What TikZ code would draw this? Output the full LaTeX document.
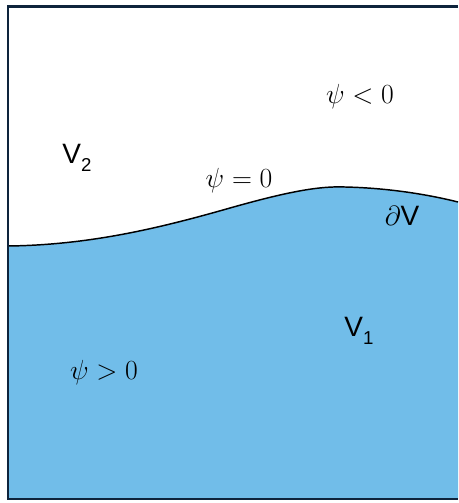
\documentclass[tikz,border=0pt]{standalone}
\usepackage{fontspec}
\newfontfamily\labelfont{Liberation Sans}
\usepackage{tikz}
\definecolor{regionblue}{RGB}{113,189,233}
\definecolor{framenavy}{RGB}{14,36,60}
\newcommand{\setfont}{\fontsize{21}{25}\selectfont\labelfont}
\newcommand{\setsub}[1]{\raisebox{-0.28em}{\fontsize{14}{17}\selectfont\labelfont #1}}
\tikzset{
  mathlabel/.style={inner sep=0.75pt, font=\fontsize{20}{24}\selectfont},
  setlabel/.style={inner sep=0.75pt, font=\setfont}
}

\begin{document}
\begin{tikzpicture}[x=0.75pt,y=0.75pt,yscale=-1,xscale=1]
\useasboundingbox (0,0) rectangle (458,503);

%Shape: lower region V1
\fill [regionblue] (8,246) .. controls (90,245) and (160,228) .. (230,208) .. controls (290,191) and (320,186) .. (345,187) .. controls (390,188) and (430,195) .. (458,202) -- (458,499) -- (8,499) -- cycle ;
%Curve: boundary dV
\draw [line width=1.1pt] (8,246) .. controls (90,245) and (160,228) .. (230,208) .. controls (290,191) and (320,186) .. (345,187) .. controls (390,188) and (430,195) .. (458,202) ;
%Straight Lines: frame
\draw [framenavy, line width=1.6pt] (458,6.5) -- (8,6.5) -- (8,499) -- (458,499) ;

% Text Node
\node (psineg) [mathlabel] at (360,97) {$\psi < 0$};
% Text Node
\node (vtwo) [setlabel] at (77,158) {V\setsub{2}};
% Text Node
\node (psizero) [mathlabel] at (239,181) {$\psi = 0$};
% Text Node
\node (boundary) [mathlabel] at (402,216) {$\partial${\setfont V}};
% Text Node
\node (vone) [setlabel] at (359,331) {V\setsub{1}};
% Text Node
\node (psipos) [mathlabel] at (104,373) {$\psi > 0$};

\end{tikzpicture}
\end{document}
